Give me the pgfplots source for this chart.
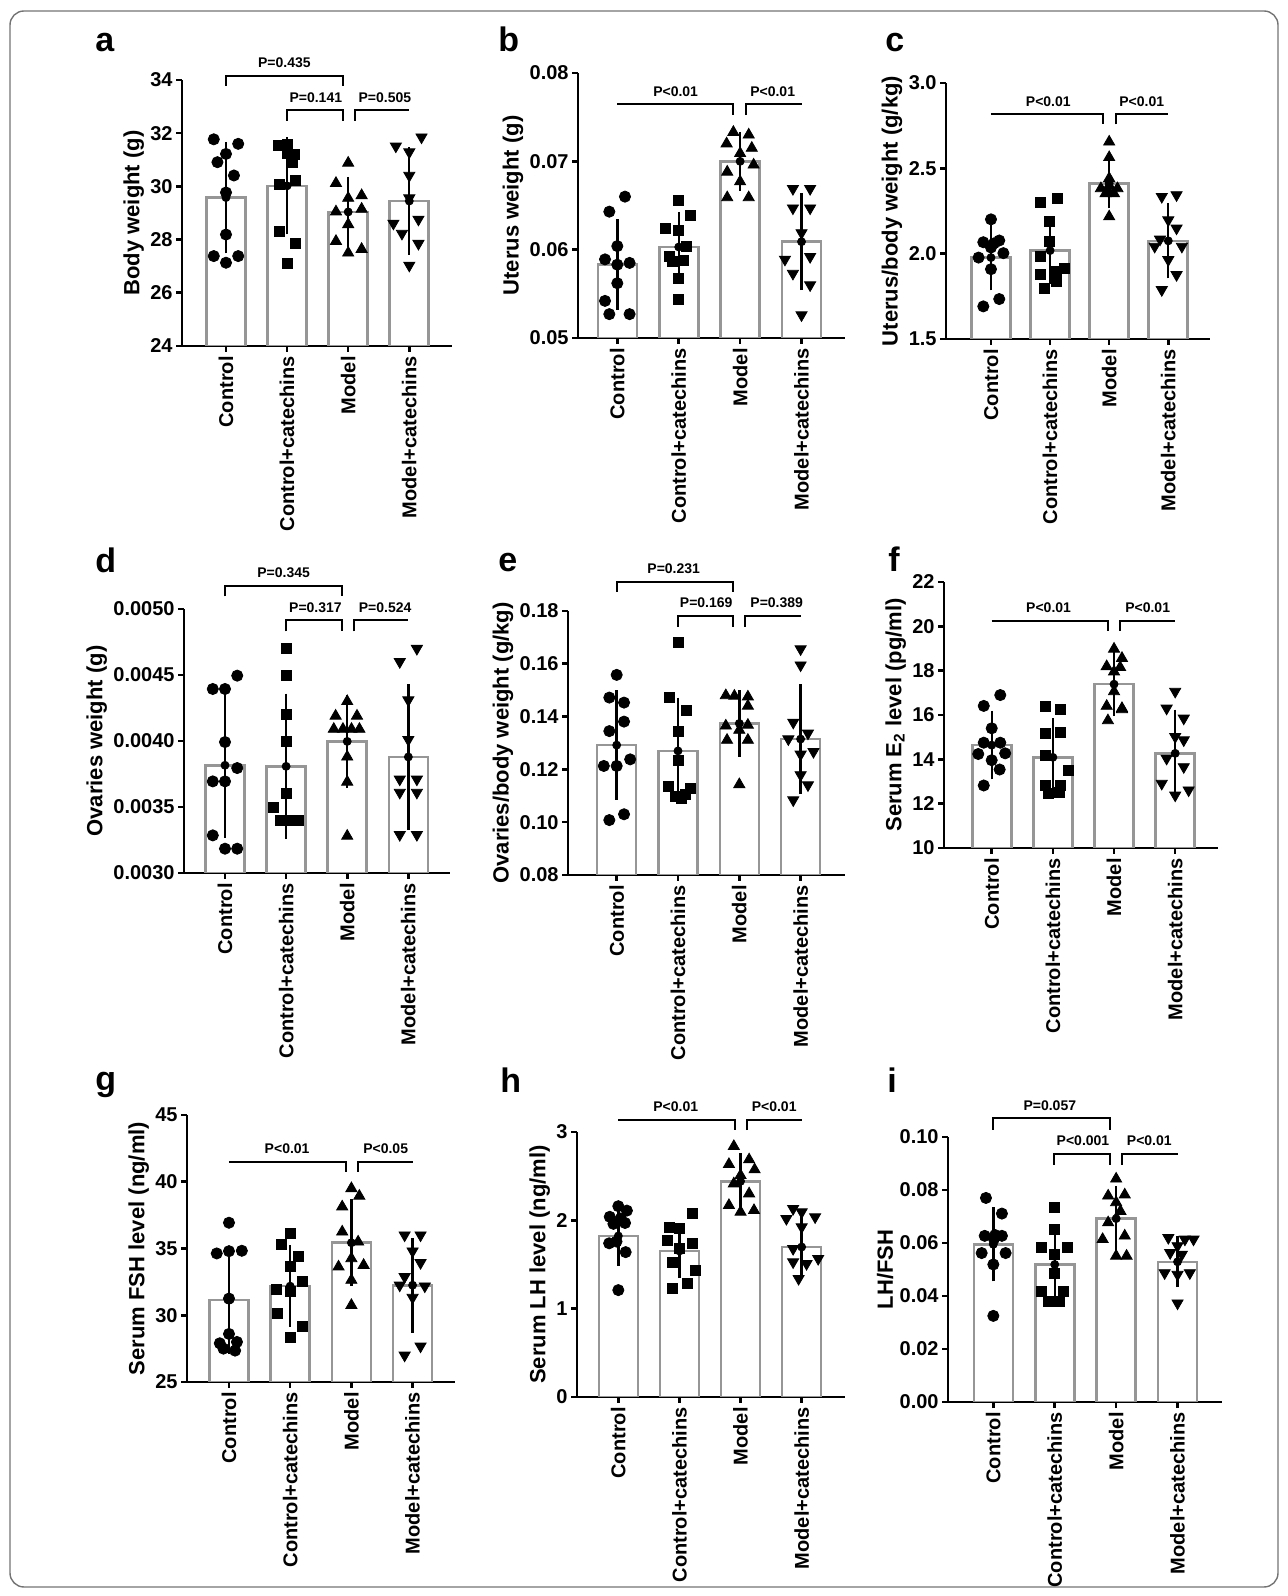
\documentclass[border=0pt]{standalone}
\usepackage{fontspec}
\setmainfont{Liberation Sans}
\usepackage{pgfplots}
\pgfplotsset{compat=1.18}
\definecolor{barcol}{RGB}{150,150,150}
\pgfplotsset{
  panel/.style={
    scale only axis, anchor=south west,
    axis lines=left, axis line style={-, line width=1.3pt, black},
    tick style={line width=1.3pt, black}, tick align=outside, major tick length=3pt,
    minor tick num=0,
    xtick={0,1,2,3}, xticklabels={Control,Control+catechins,Model,Model+catechins},
    xticklabel style={rotate=90, anchor=east, font=\fontsize{10}{12}\selectfont\bfseries, inner sep=2pt},
    yticklabel style={font=\fontsize{10}{12}\selectfont\bfseries, inner sep=1.5pt},
    ylabel style={font=\fontsize{11}{13}\selectfont\bfseries, inner sep=1.5pt},
    scaled y ticks=false,
    clip mode=individual,
  },
  bars/.style={ybar, bar shift=0pt, bar width=19.5pt, draw=barcol, fill=white, line width=1.3pt},
  pts/.style={only marks, black, mark=*, mark size=2.8pt},
  sq/.style={mark=square*, mark size=2.5pt},
  tri/.style={mark=triangle*, mark size=3.2pt},
  itri/.style={mark=triangle*, mark size=3.2pt, mark options={rotate=180}},
  errs/.style={only marks, mark=none, black, error bars/.cd, y dir=both, y explicit,
    error bar style={line width=1.2pt, black}, error mark options={line width=1.2pt, black, mark size=3pt}},
}
\tikzset{brk/.style={line width=1pt, black},
  plab/.style={font=\fontsize{7}{8}\selectfont\bfseries, anchor=south, inner sep=1pt, yshift=2.8pt},
  plet/.style={font=\fontsize{17}{18}\selectfont\bfseries, anchor=base west, inner sep=0pt}}
\newcommand\BB[6]{\draw[brk] (axis cs:#1,#4) -- (axis cs:#1,#3) -- (axis cs:#2,#3) -- (axis cs:#2,#4); \node[plab] at (axis cs:#5,#3) {#6};}
\newcommand\BR[6]{\draw[brk] (axis cs:#1,#3) -- (axis cs:#2,#3) -- (axis cs:#2,#4); \node[plab] at (axis cs:#5,#3) {#6};}
\newcommand\BL[6]{\draw[brk] (axis cs:#1,#4) -- (axis cs:#1,#3) -- (axis cs:#2,#3); \node[plab] at (axis cs:#5,#3) {#6};}
\begin{document}
\begin{tikzpicture}
\path[use as bounding box] (0pt,0pt) rectangle (643.5pt,798pt);
\draw[black!55, line width=0.7pt, rounded corners=7pt] (5pt,4.5pt) rectangle (639pt,792.5pt);
\node[plet] at (47.5pt,772pt) {a};
\node[plet] at (249pt,772pt) {b};
\node[plet] at (442.5pt,772pt) {c};
\node[plet] at (47.5pt,511.5pt) {d};
\node[plet] at (249pt,512pt) {e};
\node[plet] at (444pt,512pt) {f};
\node[plet] at (47.5pt,252.5pt) {g};
\node[plet] at (250pt,251.5pt) {h};
\node[plet] at (443.5pt,251.5pt) {i};

% ---------- a ----------
\begin{axis}[panel, at={(91pt,625pt)}, width=135pt, height=133pt,
  xmin=-0.720, xmax=3.699, ymin=24, ymax=34,
  ytick={24,26,28,30,32,34}, yticklabels={24,26,28,30,32,34},
  ylabel={Body weight (g)}]
\addplot[bars] coordinates {(0,29.58) (1,30.02) (2,29.04) (3,29.45)};
\addplot[pts] coordinates {(-0.20,31.77) (0.20,31.60) (0,31.22) (-0.14,30.91) (0.13,30.41) (0,29.77) (0,28.19) (-0.20,27.38) (0.20,27.38) (0,27.13)};
\addplot[pts,sq] coordinates {(0.86,31.54) (1.0,31.58) (1.0,31.25) (1.12,31.22) (1.08,30.91) (0.87,30.09) (1.13,30.23) (0.87,28.29) (1.13,27.85) (1.0,27.09)};
\addplot[pts,tri] coordinates {(2,30.88) (1.8,30.12) (2,29.56) (2.22,29.66) (1.8,29.05) (2.22,29.15) (2,28.57) (1.8,27.94) (2.22,27.64) (2,27.50)};
\addplot[pts,itri] coordinates {(3.2,31.85) (2.78,31.51) (3,31.29) (3,30.41) (3,29.56) (2.74,28.61) (2.88,28.23) (3.15,28.76) (3.15,27.85) (3,27.03)};
\addplot[errs] coordinates {(0,29.58) +- (0,1.87) (1,30.02) +- (0,1.60) (2,29.04) +- (0,1.09) (3,29.45) +- (0,1.80)};
\BB{0}{1.91}{34.16}{33.79}{0.955}{P=0.435}
\BB{1}{1.91}{32.86}{32.46}{1.47}{P=0.141}
\BL{2.11}{3}{32.86}{32.46}{2.6}{P=0.505}
\end{axis}

% ---------- b ----------
\begin{axis}[panel, at={(289pt,629pt)}, width=133.5pt, height=132.5pt,
  xmin=-0.640, xmax=3.708, ymin=0.05, ymax=0.08,
  ytick={0.05,0.06,0.07,0.08}, yticklabels={0.05,0.06,0.07,0.08},
  ylabel={Uterus weight (g)}]
\addplot[bars] coordinates {(0,0.0583) (1,0.0603) (2,0.0700) (3,0.0609)};
\addplot[pts] coordinates {(0.125,0.0660) (-0.13,0.0643) (0,0.0604) (-0.20,0.0589) (0.20,0.0585) (0,0.0583) (0,0.0562) (-0.20,0.0542) (-0.13,0.0527) (0.20,0.0527)};
\addplot[pts,sq] coordinates {(1,0.0656) (1.19,0.0639) (0.79,0.0624) (1,0.0622) (1.12,0.0604) (0.85,0.0592) (1.07,0.0588) (0.9,0.0587) (1,0.0568) (1,0.0544)};
\addplot[pts,tri] coordinates {(1.89,0.0733) (2.14,0.0730) (1.78,0.0720) (2.19,0.0715) (2,0.0709) (1.79,0.0688) (2.22,0.0696) (2,0.0677) (1.79,0.0659) (2.14,0.0659)};
\addplot[pts,itri] coordinates {(2.86,0.0669) (3.14,0.0669) (2.86,0.0647) (3.14,0.0647) (3,0.0619) (2.73,0.0589) (3.14,0.0592) (2.86,0.0573) (3.14,0.0560) (3,0.0526)};
\addplot[errs] coordinates {(0,0.0583) +- (0,0.00445) (1,0.0603) +- (0,0.0033) (2,0.0700) +- (0,0.00265) (3,0.0609) +- (0,0.0048)};
\BR{0}{1.89}{0.07646}{0.07522}{0.95}{P<0.01}
\BL{2.10}{3}{0.07646}{0.07522}{2.53}{P<0.01}
\end{axis}

% ---------- c ----------
\begin{axis}[panel, at={(473pt,628.5pt)}, width=132pt, height=128pt,
  xmin=-0.761, xmax=3.706, ymin=1.5, ymax=3.0,
  ytick={1.5,2.0,2.5,3.0}, yticklabels={1.5,2.0,2.5,3.0},
  ylabel={Uterus/body weight (g/kg)}]
\addplot[bars] coordinates {(0,1.977) (1,2.018) (2,2.412) (3,2.075)};
\addplot[pts] coordinates {(0,2.201) (-0.13,2.067) (0.14,2.077) (0,2.036) (-0.21,1.977) (0.21,2.003) (0,1.909) (0.14,1.734) (-0.13,1.691) (0.05,2.06)};
\addplot[pts,sq] coordinates {(1.12,2.324) (0.84,2.299) (0.98,2.188) (0.98,2.071) (0.84,1.983) (0.84,1.876) (1.1,1.895) (1.24,1.915) (1.1,1.837) (0.9,1.798)};
\addplot[pts,tri] coordinates {(2,2.655) (2,2.564) (2,2.441) (1.86,2.382) (2.14,2.382) (1.94,2.353) (2.08,2.353) (2,2.40) (2,2.36) (2,2.217)};
\addplot[pts,itri] coordinates {(2.89,2.334) (3.14,2.344) (3,2.197) (3.14,2.149) (2.86,2.084) (3.23,2.042) (2.77,2.042) (3,1.964) (3.14,1.876) (2.89,1.788)};
\addplot[errs] coordinates {(0,1.977) +- (0,0.157) (1,2.018) +- (0,0.163) (2,2.412) +- (0,0.112) (3,2.075) +- (0,0.185)};
\BR{0}{1.90}{2.817}{2.758}{0.97}{P<0.01}
\BL{2.11}{3}{2.817}{2.758}{2.55}{P<0.01}
\end{axis}

% ---------- d ----------
\begin{axis}[panel, at={(92pt,361.5pt)}, width=133pt, height=132pt,
  xmin=-0.671, xmax=3.682, ymin=0.003, ymax=0.005,
  ytick={0.003,0.0035,0.004,0.0045,0.005}, yticklabels={0.0030,0.0035,0.0040,0.0045,0.0050},
  ylabel={Ovaries weight (g)}]
\addplot[bars] coordinates {(0,0.003816) (1,0.003808) (2,0.003997) (3,0.003879)};
\addplot[pts] coordinates {(0.2,0.004495) (-0.2,0.004394) (0,0.004394) (0,0.003992) (0.2,0.003795) (-0.2,0.003694) (0,0.003694) (-0.2,0.003285) (0,0.003184) (0.2,0.003184)};
\addplot[pts,sq] coordinates {(1,0.0047) (1,0.0045) (1,0.0042) (1,0.0040) (1,0.0036) (0.79,0.0035) (0.9,0.0034) (1.0,0.0034) (1.1,0.0034) (1.2,0.0034)};
\addplot[pts,tri] coordinates {(2,0.0043) (1.81,0.00419) (2.16,0.00419) (1.78,0.00409) (1.93,0.00409) (2.07,0.00409) (2.2,0.00409) (2,0.00388) (2,0.00369) (2,0.00328)};
\addplot[pts,itri] coordinates {(3.14,0.0047) (2.86,0.0046) (3,0.00431) (3,0.00401) (2.86,0.00371) (3.14,0.00371) (2.86,0.00361) (3.14,0.00361) (2.86,0.00329) (3.14,0.00329)};
\addplot[errs] coordinates {(0,0.003816) +- (0,0.000503) (1,0.003808) +- (0,0.000506) (2,0.003997) +- (0,0.000309) (3,0.003879) +- (0,0.000505)};
\BB{0}{1.91}{0.005177}{0.005096}{0.96}{P=0.345}
\BB{1}{1.91}{0.004914}{0.004831}{1.48}{P=0.317}
\BL{2.11}{3}{0.004914}{0.004831}{2.62}{P=0.524}
\end{axis}

% ---------- e ----------
\begin{axis}[panel, at={(284pt,360.5pt)}, width=138.5pt, height=132pt,
  xmin=-0.794, xmax=3.724, ymin=0.08, ymax=0.18,
  ytick={0.08,0.10,0.12,0.14,0.16,0.18}, yticklabels={0.08,0.10,0.12,0.14,0.16,0.18},
  ylabel={Ovaries/body weight (g/kg)}]
\addplot[bars] coordinates {(0,0.1292) (1,0.1270) (2,0.1374) (3,0.1315)};
\addplot[pts] coordinates {(0,0.1558) (-0.12,0.1472) (0.12,0.1453) (0.12,0.1381) (-0.12,0.1345) (0.22,0.1238) (-0.21,0.1213) (0,0.1213) (0.12,0.1030) (-0.12,0.1008)};
\addplot[pts,sq] coordinates {(1,0.1681) (0.86,0.1472) (1.14,0.1425) (1,0.1343) (1,0.1233) (0.84,0.1137) (1.2,0.1128) (0.95,0.1098) (1.05,0.1092) (1.12,0.1105)};
\addplot[pts,tri] coordinates {(1.78,0.1480) (1.92,0.1478) (2.14,0.1475) (2.14,0.1440) (1.78,0.1365) (2.14,0.1368) (2,0.1349) (1.8,0.1311) (2.14,0.1311) (2,0.1143)};
\addplot[pts,itri] coordinates {(3,0.1656) (3,0.1595) (2.88,0.1378) (3.12,0.1337) (2.8,0.1315) (3.21,0.1267) (3,0.1257) (3,0.1179) (3.12,0.1141) (2.88,0.1084)};
\addplot[errs] coordinates {(0,0.1292) +- (0,0.0185) (1,0.1270) +- (0,0.0179) (2,0.1374) +- (0,0.0103) (3,0.1315) +- (0,0.0185)};
\BB{0}{1.90}{0.1911}{0.1873}{0.93}{P=0.231}
\BB{1}{1.90}{0.1781}{0.1741}{1.46}{P=0.169}
\BL{2.10}{3}{0.1781}{0.1741}{2.61}{P=0.389}
\end{axis}

% ---------- f ----------
\begin{axis}[panel, at={(472pt,374pt)}, width=137pt, height=133pt,
  xmin=-0.78, xmax=3.70, ymin=10, ymax=22,
  ytick={10,12,14,16,18,20,22}, yticklabels={10,12,14,16,18,20,22},
  ylabel={Serum E\textsubscript{2} level (pg/ml)}]
\addplot[bars] coordinates {(0,14.64) (1,14.09) (2,17.39) (3,14.27)};
\addplot[pts] coordinates {(0.14,16.90) (-0.13,16.41) (0,15.40) (-0.13,14.75) (0.14,14.75) (-0.22,14.24) (0.22,14.27) (0,13.96) (0.13,13.54) (-0.13,12.82)};
\addplot[pts,sq] coordinates {(0.88,16.38) (1.13,16.26) (0.88,15.17) (1.13,15.22) (0.88,14.19) (1.26,13.48) (0.88,12.83) (1.13,12.83) (0.93,12.46) (1.1,12.49)};
\addplot[pts,tri] coordinates {(2,18.98) (2.13,18.56) (1.88,18.19) (2.1,18.15) (2,17.95) (2,17.06) (1.88,16.40) (2.13,16.30) (2.13,16.25) (1.9,15.75)};
\addplot[pts,itri] coordinates {(3,17.06) (2.86,16.30) (3.14,15.85) (3,15.02) (3.14,14.87) (2.86,14.04) (3.14,13.66) (2.78,12.91) (3.22,12.61) (3,12.38)};
\addplot[errs] coordinates {(0,14.64) +- (0,1.27) (1,14.09) +- (0,1.49) (2,17.39) +- (0,1.17) (3,14.27) +- (0,1.70)};
\BR{0}{1.90}{20.25}{19.80}{0.93}{P<0.01}
\BL{2.10}{3}{20.25}{19.80}{2.55}{P<0.01}
\end{axis}

% ---------- g ----------
\begin{axis}[panel, at={(93.5pt,107pt)}, width=134pt, height=133.5pt,
  xmin=-0.686, xmax=3.693, ymin=25, ymax=45,
  ytick={25,30,35,40,45}, yticklabels={25,30,35,40,45},
  ylabel={Serum FSH level (ng/ml)}]
\addplot[bars] coordinates {(0,31.13) (1,32.18) (2,35.43) (3,32.25)};
\addplot[pts] coordinates {(0,36.93) (-0.2,34.63) (0,34.80) (0.21,34.83) (0,31.25) (0,28.6) (-0.15,27.9) (0.13,28.0) (-0.09,27.5) (0.1,27.35)};
\addplot[pts,sq] coordinates {(1,36.13) (0.86,35.33) (1.14,34.38) (1,33.63) (1.2,32.5) (0.78,31.93) (1,31.75) (0.79,30.13) (1.2,29.13) (1,28.33)};
\addplot[pts,tri] coordinates {(2,39.5) (2.13,38.93) (1.85,38.13) (1.85,36.25) (2.11,35.5) (2,34.25) (1.79,33.63) (2.2,33.75) (2,32.63) (2,30.75)};
\addplot[pts,itri] coordinates {(2.87,36.0) (3.13,36.0) (3,34.8) (3.13,33.93) (2.87,32.88) (2.79,32.25) (3.2,32.18) (3,31.33) (2.87,27.0) (3.13,27.68)};
\addplot[errs] coordinates {(0,31.13) +- (0,3.6) (1,32.18) +- (0,2.6) (2,35.43) +- (0,2.8) (3,32.25) +- (0,3.1)};
\BR{0}{1.91}{41.5}{40.75}{0.95}{P<0.01}
\BL{2.11}{3}{41.5}{40.75}{2.56}{P<0.05}
\end{axis}

% ---------- h ----------
\begin{axis}[panel, at={(288.5pt,99.5pt)}, width=134pt, height=132.5pt,
  xmin=-0.676, xmax=3.709, ymin=0, ymax=3,
  ytick={0,1,2,3}, yticklabels={0,1,2,3},
  ylabel={Serum LH level (ng/ml)}]
\addplot[bars] coordinates {(0,1.823) (1,1.653) (2,2.442) (3,1.698)};
\addplot[pts] coordinates {(0,2.16) (0.14,2.11) (-0.14,2.04) (0.04,2.02) (0.11,1.97) (-0.08,1.96) (-0.03,1.76) (-0.15,1.74) (0.12,1.64) (0,1.21)};
\addplot[pts,sq] coordinates {(1.21,2.075) (0.83,1.925) (1,1.906) (0.8,1.774) (1.21,1.736) (1,1.679) (0.88,1.528) (1.26,1.434) (1.13,1.283) (0.88,1.226)};
\addplot[pts,tri] coordinates {(1.89,2.838) (2.14,2.687) (1.81,2.634) (2.23,2.574) (2,2.509) (1.89,2.415) (2.14,2.302) (1.81,2.170) (2,2.094) (2.22,2.113)};
\addplot[pts,itri] coordinates {(2.86,2.132) (3,2.094) (3.22,2.038) (2.75,2.019) (3,1.925) (2.86,1.679) (3.27,1.566) (2.86,1.528) (3.08,1.509) (2.95,1.340)};
\addplot[errs] coordinates {(0,1.823) +- (0,0.27) (1,1.653) +- (0,0.24) (2,2.442) +- (0,0.25) (3,1.698) +- (0,0.27)};
\BR{0}{1.91}{3.14}{3.02}{0.94}{P<0.01}
\BL{2.11}{3}{3.14}{3.02}{2.55}{P<0.01}
\end{axis}

% ---------- i ----------
\begin{axis}[panel, at={(474pt,97pt)}, width=137pt, height=132.5pt,
  xmin=-0.738, xmax=3.724, ymin=0, ymax=0.10,
  ytick={0,0.02,0.04,0.06,0.08,0.10}, yticklabels={0.00,0.02,0.04,0.06,0.08,0.10},
  ylabel={LH/FSH}]
\addplot[bars] coordinates {(0,0.0595) (1,0.0519) (2,0.0692) (3,0.0529)};
\addplot[pts] coordinates {(-0.12,0.0770) (0.14,0.0711) (-0.14,0.0627) (0.01,0.0615) (0.14,0.0627) (-0.19,0.0562) (0.2,0.0562) (0,0.0519) (0,0.0325) (0.03,0.0630)};
\addplot[pts,sq] coordinates {(1,0.0734) (1,0.0652) (0.78,0.0582) (1.2,0.0582) (1,0.0557) (1,0.0487) (0.78,0.0418) (1.14,0.0418) (0.89,0.0380) (1.08,0.0380)};
\addplot[pts,tri] coordinates {(2,0.0842) (1.87,0.0778) (2.14,0.0782) (2,0.0753) (2.07,0.0720) (1.87,0.0677) (1.78,0.0614) (2.14,0.0627) (2,0.0551) (2.17,0.0551)};
\addplot[pts,itri] coordinates {(2.85,0.0620) (3.12,0.0614) (3.26,0.0614) (3,0.0589) (2.88,0.0563) (3.07,0.0557) (2.79,0.0487) (3.2,0.0487) (3,0.0481) (3,0.0373)};
\addplot[errs] coordinates {(0,0.0595) +- (0,0.0117) (1,0.0519) +- (0,0.0116) (2,0.0692) +- (0,0.0100) (3,0.0529) +- (0,0.0073)};
\BB{0}{1.90}{0.1070}{0.1028}{0.92}{P=0.057}
\BB{0.99}{1.90}{0.0937}{0.0895}{1.46}{P<0.001}
\BL{2.10}{3}{0.0937}{0.0895}{2.54}{P<0.01}
\end{axis}
\end{tikzpicture}
\end{document}
